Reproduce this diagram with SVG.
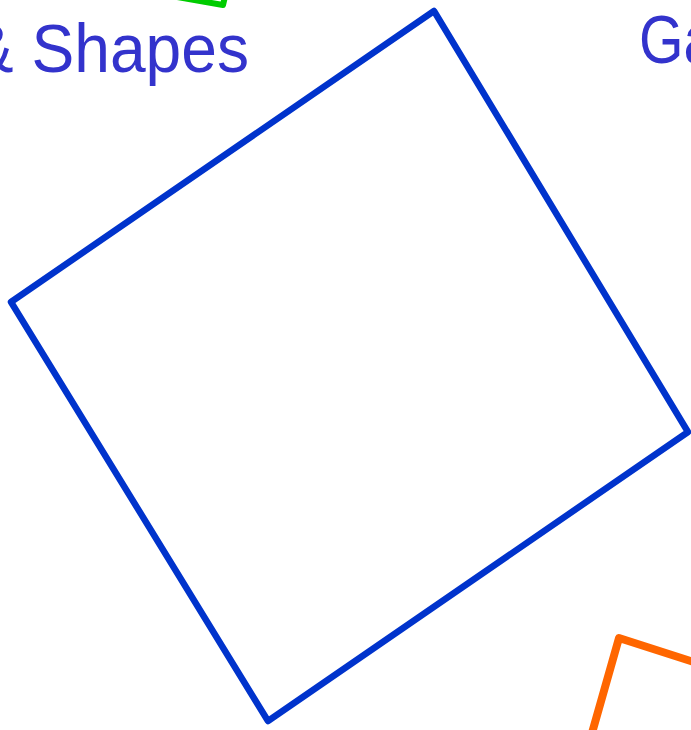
<svg xmlns="http://www.w3.org/2000/svg" width="691" height="730" viewBox="0 0 691 730">
<style>
.t{font-family:"Liberation Sans",Arial,sans-serif;font-size:69px;fill:#3333cc}
.s{fill:none;stroke-linejoin:round;stroke-linecap:round}
</style>
<rect width="691" height="730" fill="#ffffff"/>
<g id="green-shape"><polyline class="s" points="160,-6 223,5 227,-12" stroke="#00cc00" stroke-width="6"/></g>
<g id="title-left"><text class="t" transform="translate(249,72) scale(0.93,1)" text-anchor="end">&amp; Shapes</text></g>
<g id="title-right"><text class="t" transform="translate(639,63) scale(0.83,1)">Ga</text></g>
<g id="blue-square"><polygon class="s" points="434,11 688,432 268,721 11,302" stroke="#0033cc" stroke-width="6.5"/></g>
<g id="orange-shape"><polyline class="s" points="700,664 619,638 590,740" stroke="#ff6600" stroke-width="8"/></g>
</svg>
